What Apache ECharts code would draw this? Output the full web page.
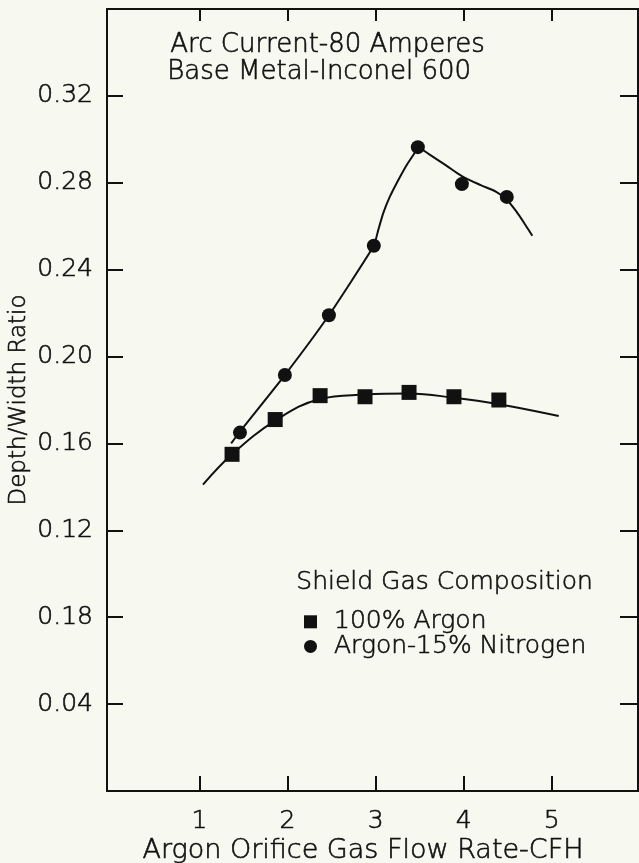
<!DOCTYPE html>
<html><head><meta charset="utf-8">
<script src="https://cdn.jsdelivr.net/npm/echarts@6/dist/echarts.min.js"></script>
<style>html,body{margin:0;padding:0;background:#f7f8f0}#c{width:639px;height:863px}</style>
</head><body><div id="c"></div>
<script>
const xTicks = [1, 2, 3, 4, 5];
const yTicks = [0.04, 0.08, 0.12, 0.16, 0.20, 0.24, 0.28, 0.32];
const yTickLabels = ['0.04', '0.18', '0.12', '0.16', '0.20', '0.24', '0.28', '0.32'];

const argonX = [1.37, 1.86, 2.37, 2.88, 3.38, 3.89, 4.40];
const argonY = [0.155, 0.171, 0.182, 0.1815, 0.1835, 0.1815, 0.180];
const nitroX = [1.46, 1.97, 2.47, 2.98, 3.48, 3.98, 4.49];
const nitroY = [0.165, 0.1915, 0.219, 0.251, 0.2964, 0.2794, 0.2735];

const argonFitX = [1.04, 1.37, 1.86, 2.37, 2.88, 3.38, 3.89, 4.40, 5.08];
const argonFitY = [0.141, 0.155, 0.1705, 0.1805, 0.1825, 0.183, 0.181, 0.178, 0.1726];
const nitroRiseX = [1.36, 1.46, 1.97, 2.47, 2.98, 3.03, 3.086, 3.162, 3.257, 3.352, 3.427, 3.484];
const nitroRiseY = [0.160, 0.1655, 0.1915, 0.219, 0.251, 0.2582, 0.2659, 0.2736, 0.2812, 0.2881, 0.2927, 0.2966];
const nitroFallX = [3.484, 3.61, 3.80, 3.98, 4.20, 4.37, 4.49, 4.60, 4.70, 4.78];
const nitroFallY = [0.2966, 0.2931, 0.2880, 0.2831, 0.2788, 0.2758, 0.2722, 0.2667, 0.2607, 0.2556];

const FONT = 'DejaVu Sans';
const INK = '#111111';
const zip = (xs, ys) => xs.map((x, i) => [x, ys[i]]);

const chart = echarts.init(document.getElementById('c'), null, {renderer: 'canvas'});
const axisLine = {show: true, onZero: false, lineStyle: {color: INK, width: 2}};
const tickStyle = {color: INK, width: 2};
const txt = (size) => ({fontFamily: FONT, fontWeight: 200, fontSize: size, color: INK, textBorderColor: INK, textBorderWidth: 0.6});
const gtxt = (s, size) => ({text: s, font: '200 ' + size + 'px "DejaVu Sans"', fill: INK, stroke: INK, lineWidth: 0.6});

chart.setOption({
  backgroundColor: '#f7f8f0',
  animation: false,
  grid: {left: 107, right: 1, top: 9, bottom: 72, containLabel: false, outerBoundsMode: 'none'},
  xAxis: [
    {type: 'value', min: -0.05, max: 5.98, position: 'bottom', axisLine,
     axisTick: {show: true, inside: true, length: 15, lineStyle: tickStyle, customValues: xTicks},
     axisLabel: Object.assign({customValues: xTicks, margin: 18}, txt(25)),
     splitLine: {show: false},
     name: 'Argon Orifice Gas Flow Rate-CFH', nameLocation: 'middle', nameGap: 46, nameMoveOverlap: false,
     nameTextStyle: Object.assign({padding: [0, 19, 0, 0]}, txt(27))},
    {type: 'value', min: -0.05, max: 5.98, position: 'top', axisLine,
     axisTick: {show: true, inside: true, length: 12, lineStyle: tickStyle, customValues: xTicks},
     axisLabel: {show: false}, splitLine: {show: false}}
  ],
  yAxis: [
    {type: 'value', min: 0, max: 0.36, position: 'left', axisLine,
     axisTick: {show: true, inside: true, length: 16, lineStyle: tickStyle, customValues: yTicks},
     axisLabel: Object.assign({customValues: yTicks, margin: 14,
       formatter: v => { const i = yTicks.findIndex(t => Math.abs(t - v) < 1e-6); return i >= 0 ? yTickLabels[i] : ''; }}, txt(25)),
     splitLine: {show: false},
     name: 'Depth/Width Ratio', nameLocation: 'middle', nameGap: 76, nameMoveOverlap: false,
     nameTextStyle: txt(23)},
    {type: 'value', min: 0, max: 0.36, position: 'right', axisLine,
     axisTick: {show: true, inside: true, length: 18, lineStyle: tickStyle, customValues: yTicks},
     axisLabel: {show: false}, splitLine: {show: false}}
  ],
  legend: {
    data: [{name: '100% Argon', icon: 'rect'}, {name: 'Argon-15% Nitrogen', icon: 'circle'}],
    orient: 'vertical', left: 299, top: 604, itemWidth: 13, itemHeight: 13, itemGap: -1,
    textStyle: Object.assign({padding: [0, 0, 0, 12]}, txt(25))
  },
  graphic: [
    {type: 'text', left: 170, top: 32, style: gtxt('Arc Current-80 Amperes', 26)},
    {type: 'text', left: 167, top: 59, style: gtxt('Base Metal-Inconel 600', 26)},
    {type: 'text', left: 296, top: 570, style: gtxt('Shield Gas Composition', 25)}
  ],
  series: [
    {type: 'line', data: zip(argonFitX, argonFitY), smooth: 0.4, showSymbol: false, lineStyle: {color: INK, width: 2}, silent: true},
    {type: 'line', data: zip(nitroRiseX, nitroRiseY), smooth: 0.15, showSymbol: false, lineStyle: {color: INK, width: 2}, silent: true},
    {type: 'line', data: zip(nitroFallX, nitroFallY), smooth: 0.3, showSymbol: false, lineStyle: {color: INK, width: 2}, silent: true},
    {name: '100% Argon', type: 'scatter', data: zip(argonX, argonY), symbol: 'rect', symbolSize: 15, itemStyle: {color: INK, opacity: 1}},
    {name: 'Argon-15% Nitrogen', type: 'scatter', data: zip(nitroX, nitroY), symbol: 'circle', symbolSize: 14, itemStyle: {color: INK, opacity: 1}}
  ]
});
</script></body></html>
